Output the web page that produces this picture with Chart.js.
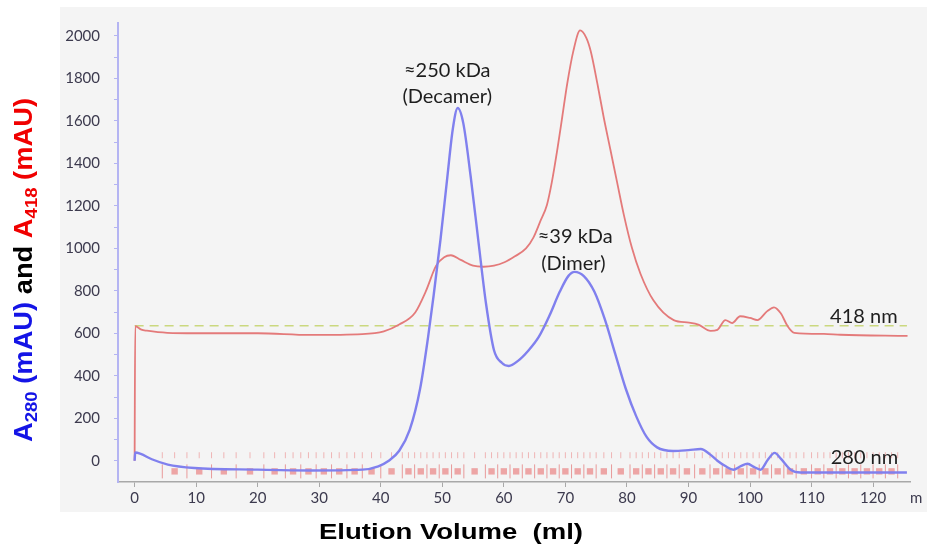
<!DOCTYPE html>
<html>
<head>
<meta charset="utf-8">
<script src="https://cdn.jsdelivr.net/npm/chart.js@4.4.1/dist/chart.umd.min.js"></script>
<style>
html,body{margin:0;padding:0;background:#fff;}
canvas{display:block;}
</style>
</head>
<body>
<canvas id="c" width="927" height="551"></canvas>
<script>
// ---- Data ----
const xTickValues = [0,10,20,30,40,50,60,70,80,90,100,110,120];
const yTickValues = [0,100,200,300,400,500,600,700,800,900,1000,1100,1200,1300,1400,1500,1600,1700,1800,1900,2000];

// A280 (blue) trace: elution volume (ml) and absorbance (mAU)
const a280Volume = [0,0.1,1.0,2.8,5.4,9.7,20,28.5,37,39.6,41.3,43,44.7,46.4,47.7,48.6,49.7,50.8,51.7,52.5,53.4,54.6,55.9,57.1,58.4,59.7,60.8,62.3,64,65.7,67.4,69.1,70.5,71.5,73,74.7,76.4,78.1,79.8,81.5,83.2,84.9,87.5,90,92,93.5,94.7,96,97.3,98.5,99.6,100.7,101.7,102.9,104,105,106.6,108.2,115,125.5];
const a280Values = [0,39,32,7,-18,-34,-42,-46,-42,-26,0,47,145,340,584,780,1040,1330,1560,1660,1590,1340,1024,740,520,460,446,470,519,584,682,796,870,889,869,796,666,503,340,210,112,63,46,50,55,30,0,-25,-42,-25,-14,-30,-42,5,37,10,-42,-55,-55,-55];

// A418 (red) trace
const a418Volume = [0,0.1,1.1,2,5.3,10,20,28.5,37,40.5,43,45.6,47.3,49,50.3,51.4,53,55,56.7,58.4,60.1,61.8,63.6,64.8,65.9,67,67.8,68.7,69.5,70.3,71.3,72.4,73.4,74.1,75.2,76.2,77.3,78.4,79.5,80.8,82.2,84.3,87.6,90.1,91.6,93.6,94.7,96,97.1,98.4,100,101.2,102.8,103.9,105,106.1,107.2,112,114.7,125.6];
const a418Values = [0,634,617,612,602,600,600,592,596,609,641,698,796,918,958,967,945,918,913,918,934,962,999,1050,1125,1204,1311,1466,1620,1775,1929,2025,1990,1929,1775,1620,1466,1311,1157,1003,880,755,662,650,641,611,616,662,648,680,672,662,704,722,694,634,602,597,593,588];

// Dashed 418 nm reference level
const refLineVolume = [0,125.5];
const refLineValue = [635,635];

// Fraction collector boundaries (ml)
const fractionBounds = [4.5,8.5,12.5,16.5,21,24.5,27,29.5,32,34.5,37,40,43.5,45.5,47.5,49.5,51.5,53.5,57,59,61,63,65,67,69,71,73,75,77.5,80.5,82.5,84.5,86.5,88.5,91,93.5,95.5,97.5,99.5,101.5,103.5,105.5,107.5,110,112,114,116,118,120,122,124];
const fractionRowValue = -50;
const fractionMarkValue = 26;

// Annotations
const annotations = [
  {text:'\u2248250 kDa', x:50.8, y:1838},
  {text:'(Decamer)', x:50.8, y:1713},
  {text:'\u224839 kDa', x:71.6, y:1056},
  {text:'(Dimer)', x:71.3, y:926},
  {text:'418 nm', x:118.5, y:680},
  {text:'280 nm', x:118.6, y:14}
];

// ---- Build ----
const pts = (xs, ys) => xs.map((x,i)=>({x:x, y:ys[i]}));
const fracMid = [];
for (let i=0;i<fractionBounds.length-1;i++) fracMid.push((fractionBounds[i]+fractionBounds[i+1])/2);

const BLUE = 'rgb(128,128,238)';
const RED = 'rgb(228,122,122)';
const TICK = '#3c3a4e';

const bgPlugin = {
  id:'bg',
  beforeDraw(chart){
    const ctx = chart.ctx;
    ctx.save();
    ctx.fillStyle = '#ffffff';
    ctx.fillRect(0,0,chart.width,chart.height);
    ctx.fillStyle = '#f4f4f4';
    ctx.fillRect(60,7,867,505);
    ctx.restore();
  }
};

const textPlugin = {
  id:'texts',
  afterDraw(chart){
    const ctx = chart.ctx;
    const xs = chart.scales.x, ys = chart.scales.y;
    ctx.save();
    // annotations
    ctx.fillStyle = '#1e1e1e';
    ctx.font = '20px Lato, "Open Sans", sans-serif';
    ctx.textAlign = 'center';
    ctx.textBaseline = 'middle';
    annotations.forEach(a=>{
      ctx.fillText(a.text, xs.getPixelForValue(a.x), ys.getPixelForValue(a.y));
    });
    // clipped unit label at axis end
    ctx.fillStyle = TICK;
    ctx.font = '15px Lato, sans-serif';
    ctx.textAlign = 'left';
    ctx.fillText('m', 910, 498);

    // x title
    const xt = 'Elution Volume  (ml)';
    ctx.font = 'bold 22px "Liberation Sans", Arial, sans-serif';
    ctx.fillStyle = '#000';
    ctx.textAlign = 'center';
    ctx.textBaseline = 'alphabetic';
    const w = ctx.measureText(xt).width;
    ctx.save();
    ctx.translate(451, 539);
    ctx.scale(264 / w, 1);
    ctx.fillText(xt, 0, 0);
    ctx.restore();

    // y title (rotated, mixed colours with subscripts)
    const big = 'bold 25px "Liberation Sans", Arial, sans-serif';
    const small = 'bold 17px "Liberation Sans", Arial, sans-serif';
    const segs = [
      {t:'A', f:big, c:'#1414e6', dy:0},
      {t:'280', f:small, c:'#1414e6', dy:5},
      {t:' (mAU) ', f:big, c:'#1414e6', dy:0},
      {t:'and ', f:big, c:'#000000', dy:0},
      {t:'A', f:big, c:'#f00000', dy:0},
      {t:'418', f:small, c:'#f00000', dy:5},
      {t:' (mAU)', f:big, c:'#f00000', dy:0}
    ];
    let total = 0;
    segs.forEach(s=>{ ctx.font = s.f; s.w = ctx.measureText(s.t).width; total += s.w; });
    ctx.save();
    ctx.translate(32, 270);
    ctx.rotate(-Math.PI/2);
    ctx.scale(344/total, 1);
    ctx.textAlign = 'left';
    ctx.textBaseline = 'alphabetic';
    let cx = -total/2;
    segs.forEach(s=>{
      ctx.font = s.f; ctx.fillStyle = s.c;
      ctx.fillText(s.t, cx, s.dy);
      cx += s.w;
    });
    ctx.restore();
    ctx.restore();
  }
};

new Chart(document.getElementById('c'), {
  type:'scatter',
  data:{
    datasets:[
      {
        label:'A280',
        data: pts(a280Volume, a280Values),
        showLine:true, borderColor:BLUE, borderWidth:2.4, pointRadius:0,
        cubicInterpolationMode:'monotone', order:1
      },
      {
        label:'A418',
        data: pts(a418Volume, a418Values),
        showLine:true, borderColor:RED, borderWidth:1.8, pointRadius:0,
        cubicInterpolationMode:'monotone', order:2
      },
      {
        label:'418 ref',
        data: pts(refLineVolume, refLineValue),
        showLine:true, borderColor:'rgba(200,214,120,0.95)', borderWidth:1.6,
        borderDash:[9,6], pointRadius:0, order:3
      },
      {
        label:'fraction bars',
        data: fractionBounds.map(x=>({x:x, y:fractionRowValue})),
        showLine:false, pointStyle:'line', rotation:90, pointRadius:7,
        borderColor:'rgba(225,95,95,0.6)', pointBorderWidth:1, order:10
      },
      {
        label:'fraction labels',
        data: fracMid.map(x=>({x:x, y:fractionRowValue})),
        showLine:false, pointStyle:'rect', pointRadius:4.5,
        backgroundColor:'rgba(230,85,85,0.5)', borderColor:'rgba(230,90,90,0)', pointBorderWidth:0, order:11
      },
      {
        label:'fraction marks',
        data: fractionBounds.concat(fracMid).map(x=>({x:x, y:fractionMarkValue})),
        showLine:false, pointStyle:'line', rotation:90, pointRadius:3,
        borderColor:'rgba(235,120,120,0.5)', pointBorderWidth:1, order:12
      }
    ]
  },
  options:{
    responsive:false,
    devicePixelRatio:1,
    animation:false,
    layout:{padding:{left:60,right:17,top:15,bottom:44}},
    plugins:{legend:{display:false}, tooltip:{enabled:false}},
    scales:{
      x:{
        type:'linear', min:-2.7, max:126,
        afterBuildTicks(scale){ scale.ticks = xTickValues.map(v=>({value:v})); },
        afterFit(scale){ scale.height = 25; },
        ticks:{ color:TICK, font:{family:'Lato', size:15}, padding:2, maxRotation:0, autoSkip:false,
                callback:(v)=>String(v) },
        grid:{ display:true, drawOnChartArea:false, drawTicks:true, tickLength:5, color:'#a8a8a8' },
        border:{ display:true, color:'#a8a8a8', width:1.5 }
      },
      y:{
        type:'linear', min:-100, max:2060,
        afterBuildTicks(scale){ scale.ticks = yTickValues.map(v=>({value:v})); },
        afterFit(scale){ scale.width = 58; },
        ticks:{ color:TICK, font:{family:'Lato', size:15}, padding:14, autoSkip:false,
                callback:(v)=> (v % 200 === 0 ? String(v) : '') },
        grid:{ display:true, drawOnChartArea:false, drawTicks:true, tickLength:4, color:'#b4b4f2' },
        border:{ display:true, color:'#b4b4f2', width:2 }
      }
    }
  },
  plugins:[bgPlugin, textPlugin]
});
</script>
</body>
</html>
